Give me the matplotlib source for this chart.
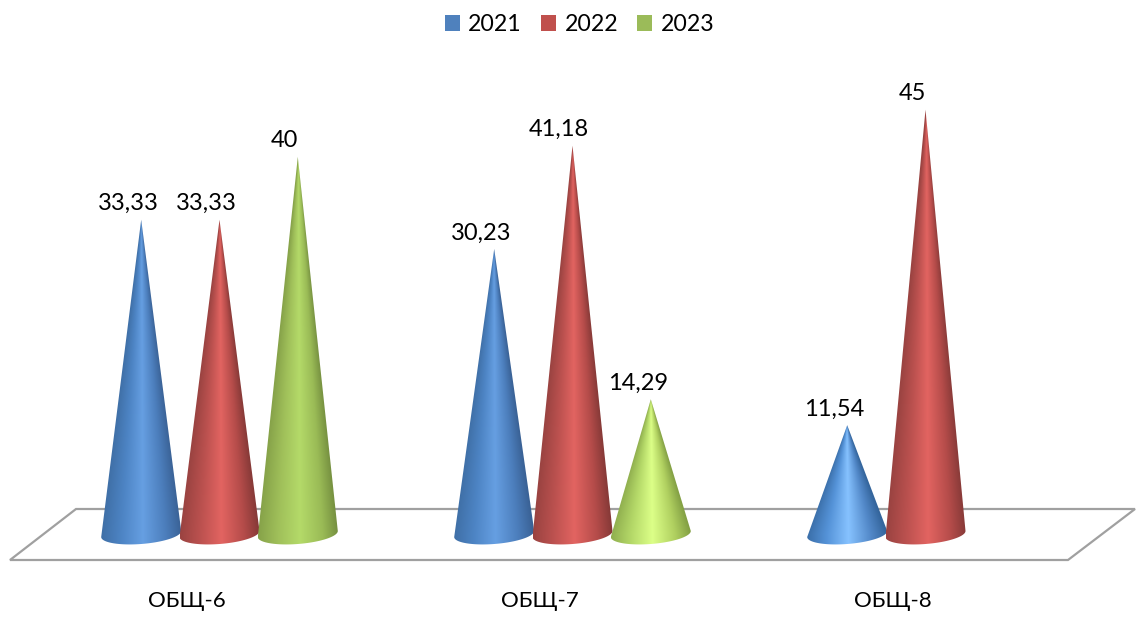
import matplotlib
matplotlib.use('Agg')
import matplotlib.pyplot as plt
import numpy as np
from matplotlib.patches import Patch, Polygon
from matplotlib.colors import to_rgb

plt.rcParams['font.family'] = ['Lato', 'Open Sans', 'DejaVu Sans']

categories = ['ОБЩ-6', 'ОБЩ-7', 'ОБЩ-8']
years = ['2021', '2022', '2023']
values_2021 = [33.33, 30.23, 11.54]
values_2022 = [33.33, 41.18, 45]
values_2023 = [40, 14.29, None]
labels_2021 = ['33,33', '30,23', '11,54']
labels_2022 = ['33,33', '41,18', '45']
labels_2023 = ['40', '14,29', None]

legend_colors = ['#4f81bd', '#c0504d', '#9bbb59']

# colours across a cone, left edge to right edge
stops = [0, 0.25, 0.52, 0.8, 1]
shades = [
    ['#3f6fa6', '#4d84c4', '#669fe2', '#4c7ebc', '#3a6296'],
    ['#9a4341', '#bb514f', '#e26461', '#b54c4a', '#853937'],
    ['#86a249', '#a0c05a', '#b4da69', '#9abb56', '#748e3f'],
]
# short cones come out lighter in the original
shades_short = [
    ['#3a6ea8', '#5593d8', '#86c2ff', '#5288c8', '#34659c'],
    ['#9a4341', '#bb514f', '#e26461', '#b54c4a', '#853937'],
    ['#8fae4e', '#b4d868', '#dcff88', '#b0d060', '#83a044'],
]

W, H = 1143, 617
px_group = 353.0     # px between groups
px_unit = 9.43       # px per value unit
x0_px, y0_px = 219.5, 534.0
offset = 78.3 / px_group
half_w = 40.0 / px_group
ell_h = 10.0 / px_unit
ell_tilt = 3.0 / px_unit

fig = plt.figure(figsize=(W / 100, H / 100), dpi=100)
ax = fig.add_axes([0, 0, 1, 1])
ax.axis('off')

xlim = (-x0_px / px_group, (W - x0_px) / px_group)
ylim = (-(H - y0_px) / px_unit, y0_px / px_unit)

# floor, in axes fractions
floor = np.array([[10, 560], [1068, 560], [1135, 509], [76, 509]]) / [W, H]
floor[:, 1] = 1 - floor[:, 1]
ax.add_patch(Polygon(floor, closed=True, transform=ax.transAxes, fc='white',
                     ec='#a0a0a0', lw=1.6, zorder=1))


def draw_cone(cx, val, cols, z):
    xs = np.linspace(cx - half_w, cx + half_w, 320)
    ys = np.linspace(-2 * ell_h, val, 700)
    xx, yy = np.meshgrid(xs, ys)
    w = half_w * np.clip((val - yy) / val, 0.004, 1)
    u = np.clip((xx - cx) / w, -1, 1) / 2 + 0.5
    rgb = [to_rgb(c) for c in cols]
    img = np.dstack([np.interp(u, stops, [c[i] for c in rgb]) for i in range(3)])
    im = ax.imshow(img, origin='lower', aspect='auto', interpolation='bilinear',
                   extent=(xs[0], xs[-1], ys[0], ys[-1]), zorder=z)
    # base is a slightly tilted ellipse, left end lower than right
    t = np.linspace(np.pi, 2 * np.pi, 60)
    arc_x = cx + half_w * np.cos(t)
    arc_y = ell_h * np.sin(t) + ell_tilt * np.cos(t)
    pts = np.vstack([[cx, val], np.column_stack([arc_x, arc_y])])
    clip = Polygon(pts, closed=True, transform=ax.transData, fc='none', ec='none')
    ax.add_patch(clip)
    im.set_clip_path(clip)


series = [values_2021, values_2022, values_2023]
texts = [labels_2021, labels_2022, labels_2023]
z = 2
for g in range(len(categories)):
    for s in range(len(years)):
        v = series[s][g]
        if v is None:
            continue
        cx = g + (s - 1) * offset
        cols = shades_short[s] if v < 20 else shades[s]
        draw_cone(cx, v, cols, z)
        z += 1
        ax.annotate(texts[s][g], (cx, v), xytext=(-9.5, 11.5), textcoords='offset points',
                    ha='center', va='center', fontsize=17, color='black', zorder=50)

for g, name in enumerate(categories):
    ax.annotate(name, (g, ylim[0]), xytext=(-23.5, 11.5), textcoords='offset points',
                ha='center', va='center', fontsize=16, color='black')

ax.set_xlim(xlim)
ax.set_ylim(ylim)

handles = [Patch(color=c, label=y, lw=0) for c, y in zip(legend_colors, years)]
ax.legend(handles=handles, loc='upper center', bbox_to_anchor=(0.507, 1.0), ncol=3,
          frameon=False, fontsize=16.7, handlelength=0.65, handleheight=0.65,
          handletextpad=0.36, columnspacing=0.82, borderaxespad=0.2)

fig.savefig('out.png', dpi=100)
